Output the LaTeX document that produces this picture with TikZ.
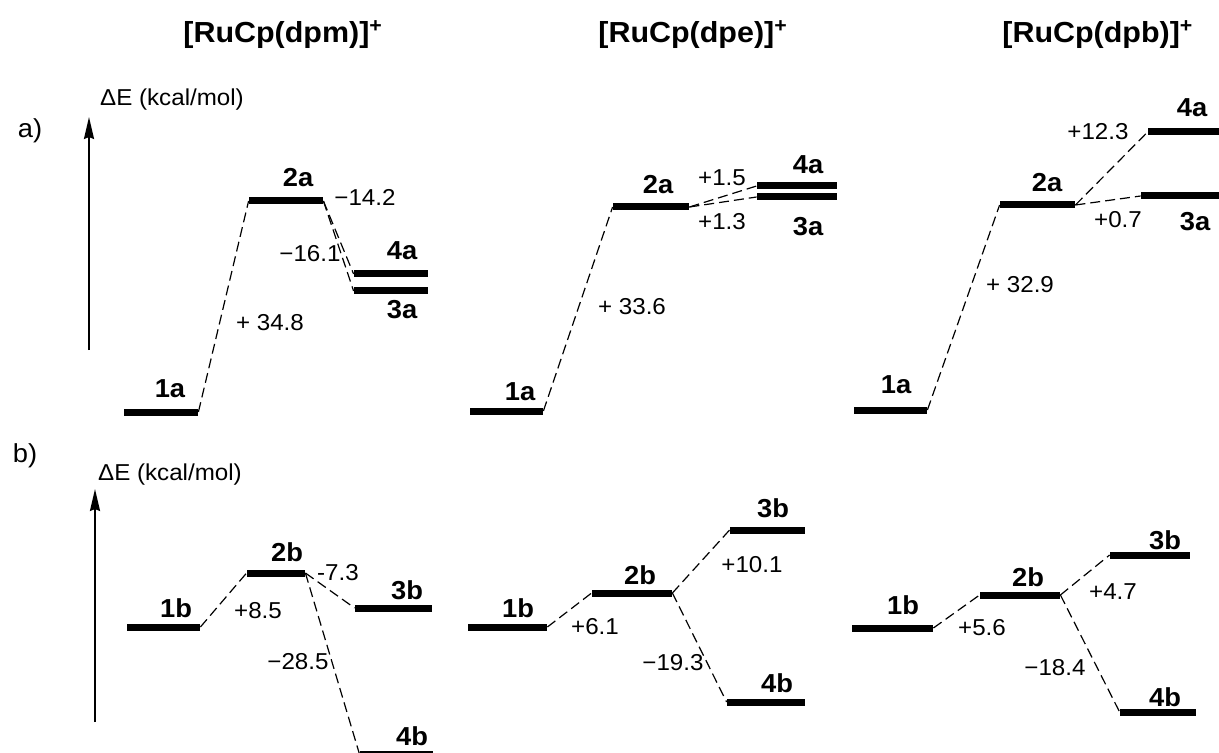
\documentclass[tikz,border=0pt]{standalone}
\usepackage{fontspec}
\setmainfont{Liberation Sans}[FakeStretch=1.05]
\usetikzlibrary{arrows.meta}
\begin{document}
\begin{tikzpicture}[x=0.5pt,y=-0.5pt,
 lvl/.style={fill=black, inner sep=0pt, minimum height=3.5pt, minimum width={#1*0.5pt}},
 conn/.style={dash pattern=on 5pt off 2.5pt, line width=0.6pt},
 axis/.style={line width=1pt, -{Stealth[length=11pt,width=5pt,inset=1pt]}},
 st/.style={font=\fontsize{13}{15}\selectfont\bfseries, inner sep=0pt},
 val/.style={font=\fontsize{11.5}{13}\selectfont, inner sep=0pt},
 ttl/.style={font=\fontsize{14.5}{16}\selectfont\bfseries, inner sep=0pt, anchor=base west},
 lab/.style={font=\fontsize{13}{15}\selectfont, inner sep=0pt}]
\useasboundingbox (0,0) rectangle (1219,753);
\clip (0,0) rectangle (1219,753);

% titles
\node[ttl] (T1) at (183,43) {[RuCp(dpm)]\textsuperscript{+}};
\node[ttl] (T2) at (598,43) {[RuCp(dpe)]\textsuperscript{+}};
\node[ttl] (T3) at (1002,43) {[RuCp(dpb)]\textsuperscript{+}};

% panel labels and axes
\node[lab] (pa) at (30,131) {a)};
\node[lab] (pb) at (25,456) {b)};
\node[val] (ea) at (172,100) {ΔE (kcal/mol)};
\node[val] (eb) at (170,475) {ΔE (kcal/mol)};
\coordinate (axa0) at (89,350);
\coordinate (axa1) at (89,117);
\coordinate (axb0) at (95,722);
\coordinate (axb1) at (95,489);
\draw[axis] (axa0) -- (axa1);
\draw[axis] (axb0) -- (axb1);

% ---------- panel a, dpm ----------
\node[lvl=74] (m1a) at (161,412) {};
\node[lvl=74] (m2a) at (286,201) {};
\node[lvl=74] (m4a) at (391,274) {};
\node[lvl=74] (m3a) at (391,291) {};
\draw[conn] (m1a.east) -- (m2a.west);
\draw[conn] (m2a.east) -- (m4a.west);
\draw[conn] (m2a.east) -- (m3a.west);
\node[st] (lm1a) at (170,389) {1a};
\node[st] (lm2a) at (298,178) {2a};
\node[st] (lm4a) at (402,251) {4a};
\node[st] (lm3a) at (402,310) {3a};
\node[val] (vm1) at (270,323) {+ 34.8};
\node[val] (vm2) at (365,197) {−14.2};
\node[val] (vm3) at (310,254) {−16.1};

% ---------- panel a, dpe ----------
\node[lvl=73] (e1a) at (506.5,411) {};
\node[lvl=76] (e2a) at (651,207) {};
\node[lvl=80] (e4a) at (797,186) {};
\node[lvl=80] (e3a) at (797,197) {};
\draw[conn] (e1a.east) -- (e2a.west);
\draw[conn] (e2a.east) -- (e4a.west);
\draw[conn] (e2a.east) -- (e3a.west);
\node[st] (le1a) at (520,392) {1a};
\node[st] (le2a) at (658,185) {2a};
\node[st] (le4a) at (808,165) {4a};
\node[st] (le3a) at (808,227) {3a};
\node[val] (ve1) at (632,307) {+ 33.6};
\node[val] (ve2) at (722,178) {+1.5};
\node[val] (ve3) at (722,222) {+1.3};

% ---------- panel a, dpb ----------
\node[lvl=73] (b1a) at (890.5,410) {};
\node[lvl=75] (b2a) at (1037.5,205) {};
\node[lvl=76] (b4a) at (1186,132) {};
\node[lvl=78] (b3a) at (1180,196) {};
\draw[conn] (b1a.east) -- (b2a.west);
\draw[conn] (b2a.east) -- (b4a.west);
\draw[conn] (b2a.east) -- (b3a.west);
\node[st] (lb1a) at (896,385) {1a};
\node[st] (lb2a) at (1047,183) {2a};
\node[st] (lb4a) at (1192,108) {4a};
\node[st] (lb3a) at (1195,222) {3a};
\node[val] (vb1) at (1020,285) {+ 32.9};
\node[val] (vb2) at (1098,132) {+12.3};
\node[val] (vb3) at (1118,220) {+0.7};

% ---------- panel b, dpm ----------
\node[lvl=73] (m1b) at (163.5,627) {};
\node[lvl=58] (m2b) at (276,573) {};
\node[lvl=77] (m3b) at (393.5,608) {};
\node[lvl=73] (m4b) at (396.5,754.5) {};
\draw[conn] (m1b.east) -- (m2b.west);
\draw[conn] (m2b.east) -- (m3b.west);
\draw[conn] (m2b.east) -- (m4b.west);
\node[st] (lm1b) at (176,608) {1b};
\node[st] (lm2b) at (287,552) {2b};
\node[st] (lm3b) at (407,590) {3b};
\node[st] (lm4b) at (412,736) {4b};
\node[val] (wm1) at (258,611) {+8.5};
\node[val] (wm2) at (338,573) {-7.3};
\node[val] (wm3) at (298,662) {−28.5};

% ---------- panel b, dpe ----------
\node[lvl=79] (e1b) at (507.5,627) {};
\node[lvl=80] (e2b) at (632,593) {};
\node[lvl=75] (e3b) at (767.5,530) {};
\node[lvl=78] (e4b) at (766,702) {};
\draw[conn] (e1b.east) -- (e2b.west);
\draw[conn] (e2b.east) -- (e3b.west);
\draw[conn] (e2b.east) -- (e4b.west);
\node[st] (le1b) at (518,608) {1b};
\node[st] (le2b) at (640,575) {2b};
\node[st] (le3b) at (773,508) {3b};
\node[st] (le4b) at (777,683) {4b};
\node[val] (we1) at (595,627) {+6.1};
\node[val] (we2) at (752,565) {+10.1};
\node[val] (we3) at (673,663) {−19.3};

% ---------- panel b, dpb ----------
\node[lvl=81] (b1b) at (892.5,628) {};
\node[lvl=80] (b2b) at (1020,595) {};
\node[lvl=80] (b3b) at (1150,555) {};
\node[lvl=76] (b4b) at (1158,712) {};
\draw[conn] (b1b.east) -- (b2b.west);
\draw[conn] (b2b.east) -- (b3b.west);
\draw[conn] (b2b.east) -- (b4b.west);
\node[st] (lb1b) at (903,605) {1b};
\node[st] (lb2b) at (1028,577) {2b};
\node[st] (lb3b) at (1165,540) {3b};
\node[st] (lb4b) at (1165,697) {4b};
\node[val] (wb1) at (982,628) {+5.6};
\node[val] (wb2) at (1113,592) {+4.7};
\node[val] (wb3) at (1055,668) {−18.4};
\end{tikzpicture}
\end{document}
